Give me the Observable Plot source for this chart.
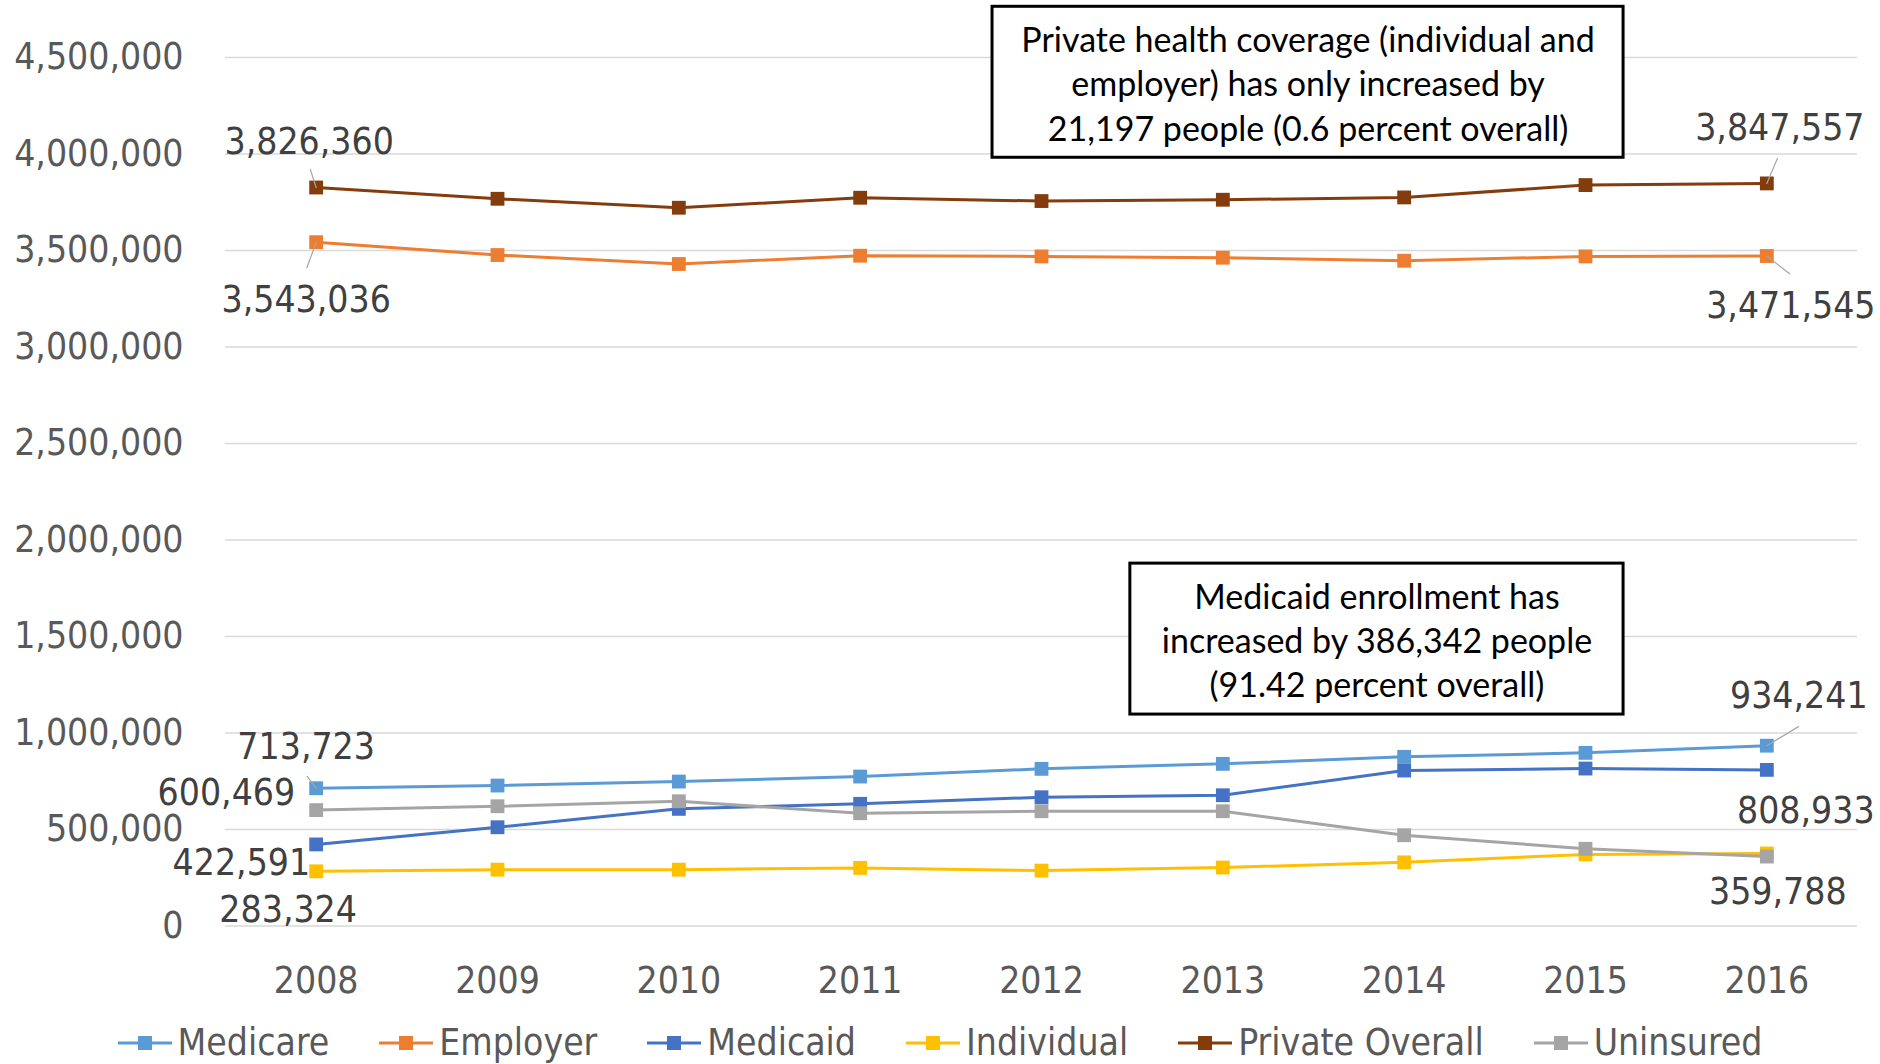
<!DOCTYPE html>
<html>
<head>
<meta charset="utf-8">
<script src="https://cdn.jsdelivr.net/npm/d3@7"></script>
<script src="https://cdn.jsdelivr.net/npm/@observablehq/plot@0.6"></script>
<style>
  html, body { margin: 0; padding: 0; background: #fff; }
  #chart { width: 1880px; }
  .legend {
    display: flex; justify-content: center; align-items: center; gap: 50px;
    font-family: "DejaVu Sans Condensed", "DejaVu Sans", sans-serif; font-stretch: semi-condensed;
    font-size: 37px; color: #595959; height: 59px; margin-top: 8px;
  }
  .legend .item { display: flex; align-items: center; }
  .legend svg { margin-right: 6px; }
</style>
</head>
<body>
<div id="chart"></div>
<script>
// Health coverage by type, 2008–2016
const years = [2008, 2009, 2010, 2011, 2012, 2013, 2014, 2015, 2016];
const medicare       = [713723, 727700, 748400, 774300, 814200, 840100, 876400, 897100, 934241];
const employer       = [3543036, 3476500, 3430000, 3473000, 3469300, 3462600, 3447000, 3469300, 3471545];
const medicaid       = [422591, 511700, 607000, 633000, 667100, 677500, 805400, 815800, 808933];
const individual     = [283324, 292000, 292000, 301000, 287000, 303000, 330000, 371000, 376012];
const privateOverall = [3826360, 3768000, 3721500, 3773300, 3756200, 3763000, 3775000, 3839000, 3847557];
const uninsured      = [600469, 620500, 646400, 584300, 594600, 594600, 470300, 399900, 359788];

const seriesNames  = ["Medicare", "Employer", "Medicaid", "Individual", "Private Overall", "Uninsured"];
const seriesValues = [medicare, employer, medicaid, individual, privateOverall, uninsured];
const seriesColors = ["#5B9BD5", "#ED7D31", "#4472C4", "#FFC000", "#843C0C", "#A5A5A5"];

const yTicks = d3.range(0, 4500001, 500000);

// Callout texts
const calloutTexts = [
  "Private health coverage (individual and\nemployer) has only increased by\n21,197 people (0.6 percent overall)",
  "Medicaid enrollment has\nincreased by 386,342 people\n(91.42 percent overall)"
];

// Tidy rows for the line and dot marks
const rows = seriesNames.flatMap((name, s) =>
  years.map((year, i) => ({ series: name, year, value: seriesValues[s][i] })));

// Endpoint value labels: which series/year, and where the label sits relative to its point
const labelSpecs = [
  { s: "Private Overall", i: 0, dx: -7,  dy: -45, anchor: "middle" },
  { s: "Employer",        i: 0, dx: -10, dy: 58,  anchor: "middle" },
  { s: "Private Overall", i: 8, dx: 13,  dy: -55, anchor: "middle" },
  { s: "Employer",        i: 8, dx: 24,  dy: 50,  anchor: "middle" },
  { s: "Medicare",        i: 0, dx: -10, dy: -41, anchor: "middle" },
  { s: "Uninsured",       i: 0, dx: -21, dy: -17, anchor: "end" },
  { s: "Medicaid",        i: 0, dx: -6,  dy: 19,  anchor: "end" },
  { s: "Individual",      i: 0, dx: -28, dy: 39,  anchor: "middle" },
  { s: "Medicare",        i: 8, dx: 32,  dy: -50, anchor: "middle" },
  { s: "Medicaid",        i: 8, dx: 39,  dy: 41,  anchor: "middle" },
  { s: "Uninsured",       i: 8, dx: 11,  dy: 36,  anchor: "middle" }
];
const labelRows = labelSpecs.map(d => {
  const v = seriesValues[seriesNames.indexOf(d.s)][d.i];
  return { ...d, year: years[d.i], value: v, text: d3.format(",")(v) };
});

// Leader lines from a point toward its label (length in px, angle clockwise from up)
const leaderSpecs = [
  { s: "Private Overall", i: 0, length: 19, rotate: -18 },
  { s: "Employer",        i: 0, length: 27, rotate: 200 },
  { s: "Private Overall", i: 8, length: 27, rotate: 23 },
  { s: "Employer",        i: 8, length: 29, rotate: 128 },
  { s: "Medicare",        i: 0, length: 15, rotate: -37 },
  { s: "Medicare",        i: 8, length: 37, rotate: 59 }
];
const leaderRows = leaderSpecs.map(d => ({
  ...d, year: years[d.i], value: seriesValues[seriesNames.indexOf(d.s)][d.i]
}));
const plainLine = {
  draw(context, l) { context.moveTo(0, 0); context.lineTo(0, -l); }
};

// Callout box placement in chart units
const callouts = [
  { x1: 2011.73, x2: 2015.21, y1: 3980500, y2: 4762700, text: calloutTexts[0] },
  { x1: 2012.49, x2: 2015.21, y1: 1095500, y2: 1877600, text: calloutTexts[1] }
];

const font = "'DejaVu Sans Condensed', 'DejaVu Sans', sans-serif";

const chart = Plot.plot({
  width: 1880,
  height: 1005,
  marginTop: 57,
  marginBottom: 79.5,
  marginLeft: 225,
  marginRight: 23,
  style: { fontFamily: font, fontStretch: "semi-condensed", color: "#595959", background: "#fff", overflow: "visible" },
  x: { domain: [2007.5, 2016.5] },
  y: { domain: [0, 4500000] },
  length: { type: "identity" },
  color: { domain: seriesNames, range: seriesColors },
  marks: [
    Plot.gridY(yTicks, { stroke: "#D9D9D9", strokeOpacity: 1, strokeWidth: 1.5 }),
    Plot.axisY({ ticks: yTicks, tickFormat: d3.format(","), tickSize: 0, tickPadding: 42, fontSize: 37, label: null }),
    Plot.axisX({ ticks: years, tickFormat: d => String(d), tickSize: 0, tickPadding: 41, fontSize: 37, label: null }),
    Plot.line(rows, { x: "year", y: "value", z: "series", stroke: "series", strokeWidth: 3 }),
    Plot.dot(rows, { x: "year", y: "value", fill: "series", symbol: "square", r: 7.8, stroke: null }),
    Plot.vector(leaderRows, { x: "year", y: "value", length: "length", rotate: "rotate", anchor: "start",
      shape: plainLine, stroke: "#A6A6A6", strokeWidth: 1.2 }),
    // one text mark per value label, since each has its own offset
    ...labelRows.map(d =>
      Plot.text([d], { x: "year", y: "value", text: "text", dx: d.dx, dy: d.dy,
        textAnchor: d.anchor, fontSize: 37, fill: "#404040" })),
    Plot.rect(callouts, { x1: "x1", x2: "x2", y1: "y1", y2: "y2", fill: "#fff", stroke: "#000", strokeWidth: 3 }),
    Plot.text(callouts, { x: d => (d.x1 + d.x2) / 2, y: d => (d.y1 + d.y2) / 2, text: "text",
      fontFamily: "Lato, sans-serif", fontSize: 34, lineHeight: 1.3, fill: "#000" })
  ]
});

document.getElementById("chart").appendChild(chart);

// Legend below the chart
const legend = d3.select("body").append("div").attr("class", "legend");
seriesNames.forEach((name, i) => {
  const item = legend.append("div").attr("class", "item");
  const sw = item.append("svg").attr("width", 54).attr("height", 20);
  sw.append("line").attr("x1", 0).attr("x2", 54).attr("y1", 10).attr("y2", 10)
    .attr("stroke", seriesColors[i]).attr("stroke-width", 3);
  sw.append("rect").attr("x", 20).attr("y", 3).attr("width", 14).attr("height", 14).attr("fill", seriesColors[i]);
  item.append("span").text(name);
});
</script>
</body>
</html>
